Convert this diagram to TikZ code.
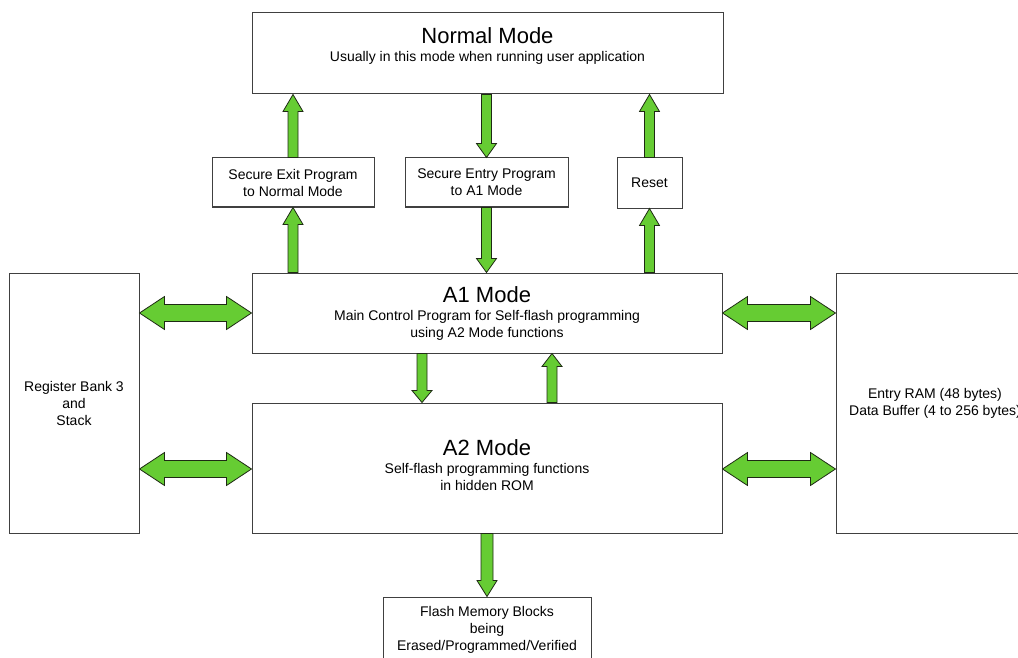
\documentclass[tikz,border=0pt]{standalone}
\usepackage{fontspec}
\setmainfont{Liberation Sans}
\usetikzlibrary{calc}

\definecolor{arrowgreen}{HTML}{66CC33}
\definecolor{arrowline}{HTML}{1E2A14}
\definecolor{boxline}{HTML}{404040}

\newcommand{\titlefont}{\fontsize{22}{24}\selectfont}
\newcommand{\fw}{5pt}   % half shaft width
\newcommand{\fh}{10pt}  % half head width
\newcommand{\fl}{16pt}  % head length

\tikzset{
  box/.style={draw=boxline, line width=1pt, fill=white, inner sep=0pt,
    align=center, font=\fontsize{14}{17}\selectfont},
  shaft/.code={\renewcommand{\fw}{#1}},
  headw/.code={\renewcommand{\fh}{#1}},
  headl/.code={\renewcommand{\fl}{#1}},
  fatbase/.style={draw=arrowline, fill=arrowgreen, line width=0.8pt, line join=miter},
  % block arrow with one head at the target
  fat/.style={fatbase, to path={
    let \p1=(\tikztostart), \p2=(\tikztotarget),
        \n1={atan2(\y2-\y1,\x2-\x1)} in
    ($(\p1)+(\n1+90:\fw)$)
    -- ($(\p2)+(\n1+180:\fl)+(\n1+90:\fw)$)
    -- ($(\p2)+(\n1+180:\fl)+(\n1+90:\fh)$)
    -- (\p2)
    -- ($(\p2)+(\n1+180:\fl)+(\n1-90:\fh)$)
    -- ($(\p2)+(\n1+180:\fl)+(\n1-90:\fw)$)
    -- ($(\p1)+(\n1-90:\fw)$) -- cycle}},
  % block arrow with heads at both ends
  fatboth/.style={fatbase, to path={
    let \p1=(\tikztostart), \p2=(\tikztotarget),
        \n1={atan2(\y2-\y1,\x2-\x1)} in
    (\p1)
    -- ($(\p1)+(\n1:\fl)+(\n1+90:\fh)$)
    -- ($(\p1)+(\n1:\fl)+(\n1+90:\fw)$)
    -- ($(\p2)+(\n1+180:\fl)+(\n1+90:\fw)$)
    -- ($(\p2)+(\n1+180:\fl)+(\n1+90:\fh)$)
    -- (\p2)
    -- ($(\p2)+(\n1+180:\fl)+(\n1-90:\fh)$)
    -- ($(\p2)+(\n1+180:\fl)+(\n1-90:\fw)$)
    -- ($(\p1)+(\n1:\fl)+(\n1-90:\fw)$)
    -- ($(\p1)+(\n1:\fl)+(\n1-90:\fh)$) -- cycle}},
  sidearrow/.style={fatboth, shaft=8.5pt, headw=16.5pt, headl=25pt},
}

\begin{document}
\begin{tikzpicture}[x=1pt,y=-1pt]
\useasboundingbox (0,0) rectangle (1018,658);
\clip (0,0) rectangle (1018,658);

% mode boxes
\node[box, minimum width=471pt, minimum height=81pt] (normal) at (487.5,53.5) {};
\node[align=center, font=\fontsize{14}{17}\selectfont] (normaltext) at (487.5,45.5)
  {{\titlefont Normal Mode}\\[1pt]Usually in this mode when running user application};

\node[box, minimum width=162pt, minimum height=49pt] (exit) at (293,182.5)
  {Secure Exit Program\\to Normal Mode};
\node[box, minimum width=163pt, minimum height=49pt] (entry) at (486.5,182.5)
  {Secure Entry Program\\to A1 Mode};
\node[box, minimum width=65pt, minimum height=50pt] (reset) at (649.5,183) {Reset};

\node[box, minimum width=470pt, minimum height=80pt] (a1) at (487,313)
  {{\titlefont A1 Mode}\\[1pt]Main Control Program for Self-flash programming\\using A2 Mode functions};
\node[box, minimum width=470pt, minimum height=130pt] (a2) at (487,468) {};
\node[align=center, font=\fontsize{14}{17}\selectfont] (a2text) at (487,465.5)
  {{\titlefont A2 Mode}\\[1pt]Self-flash programming functions\\in hidden ROM};

\node[box, minimum width=130pt, minimum height=260pt] (regs) at (74,403)
  {Register Bank 3\\and\\Stack};
\node[box, minimum width=198pt, minimum height=260pt] (ram) at (935,403)
  {Entry RAM (48 bytes)\\Data Buffer (4 to 256 bytes)};
\node[box, minimum width=208pt, minimum height=66pt] (flash) at (487,630)
  {Flash Memory Blocks\\being\\Erased/Programmed/Verified};

% vertical transfers
\draw[fat, headl=17pt] (exit.north) to (exit.north |- normal.south);
\draw[fat, headl=17pt] (exit.north |- a1.north) to (exit.south);
\draw[fat, headl=14pt] (entry.north |- normal.south) to (entry.north);
\draw[fat, headl=14pt] (entry.south) to (entry.south |- a1.north);
\draw[fat, headl=17pt] (reset.north) to (reset.north |- normal.south);
\draw[fat, headl=17pt] (reset.south |- a1.north) to (reset.south);
\draw[fat, headl=12pt] ([xshift=-65pt]a1.south) to ([xshift=-65pt]a2.north);
\draw[fat, headl=13pt] ([xshift=65pt]a2.north) to ([xshift=65pt]a1.south);
\draw[fat, shaft=6pt, headl=16pt] (a2.south) to (flash.north);

% side transfers
\draw[sidearrow] (regs.east |- a1.west) to (a1.west);
\draw[sidearrow] ([yshift=-1pt]regs.east |- a2.west) to ([yshift=-1pt]a2.west);
\draw[sidearrow] (a1.east) to (a1.east -| ram.west);
\draw[sidearrow] ([yshift=-1pt]a2.east) to ([yshift=-1pt]a2.east -| ram.west);
\end{tikzpicture}
\end{document}
